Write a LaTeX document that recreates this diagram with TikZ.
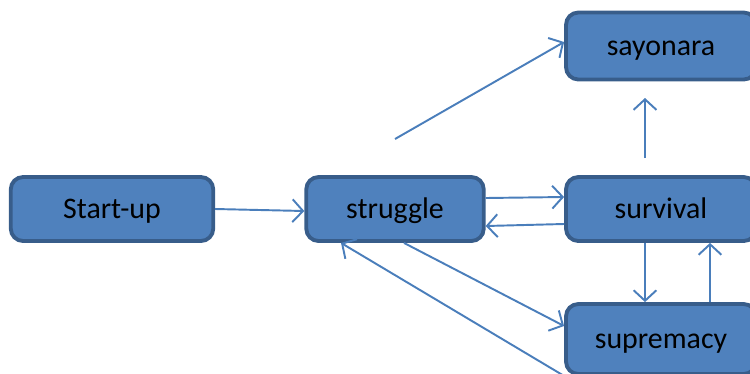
\documentclass[tikz,border=0pt]{standalone}
\usepackage{fontspec}
\setmainfont{Carlito}
\usepackage{xcolor}
\usetikzlibrary{arrows.meta}
\usetikzlibrary{positioning}

\definecolor{boxfill}{HTML}{4F81BD}
\definecolor{boxline}{HTML}{385D8A}
\definecolor{arrowline}{HTML}{4A7EBB}

\tikzset{
    stage/.style={draw=boxline, fill=boxfill, line width=2.2pt, rounded corners=7pt,
        minimum height=1.28cm, inner sep=0pt, text height=11pt, text depth=0.5pt,
        font=\fontsize{17}{20}\selectfont},
    link/.style={draw=arrowline, line width=1.1pt, ->}
}

\begin{document}
\begin{tikzpicture}[x=0.02cm, y=-0.02cm, >={Straight Barb[length=6pt,width=13pt]}]
        %Frame
            \clip (0,0) rectangle (750,373);
        %Stages
            \node[stage, minimum width=4.05cm] (startup) at (112,209) {Start-up};
            \node[stage, minimum width=3.55cm] (struggle) at (395,209) {struggle};
            \node[stage, minimum width=3.8cm] (survival) at (661,209) {survival};
            \node[stage, minimum width=3.8cm, minimum height=1.34cm] (sayonara) at (661,46) {sayonara};
            \node[stage, minimum width=3.8cm, minimum height=1.4cm] (supremacy) at (661,339) {supremacy};
        %Loose ends
            \coordinate (exitup) at (395,139);
            \coordinate (survtop) at (645,158);
            \coordinate (saytip) at (645,98);
        %Forward
            \draw[link] (startup.east) -- ([yshift=-0.04cm]struggle.west);
            \draw[link] (exitup) -- ([yshift=0.08cm]sayonara.west);
            \draw[link] ([yshift=0.22cm]struggle.east) -- ([yshift=0.24cm]survival.west);
            \draw[link] (survtop) -- (saytip);
            \draw[link] ([xshift=-0.32cm]survival.south) -- ([xshift=-0.32cm]supremacy.north);
            \draw[link] ([xshift=0.18cm]struggle.south) -- ([yshift=0.26cm]supremacy.west);
        %Back
            \draw[link] ([yshift=-0.3cm]survival.west) -- ([yshift=-0.34cm]struggle.east);
            \draw[link] ([xshift=0.98cm]supremacy.north) -- ([xshift=0.98cm]survival.south);
            \draw[link] (supremacy.south west) -- ([xshift=-1.08cm]struggle.south);
    \end{tikzpicture}
\end{document}
